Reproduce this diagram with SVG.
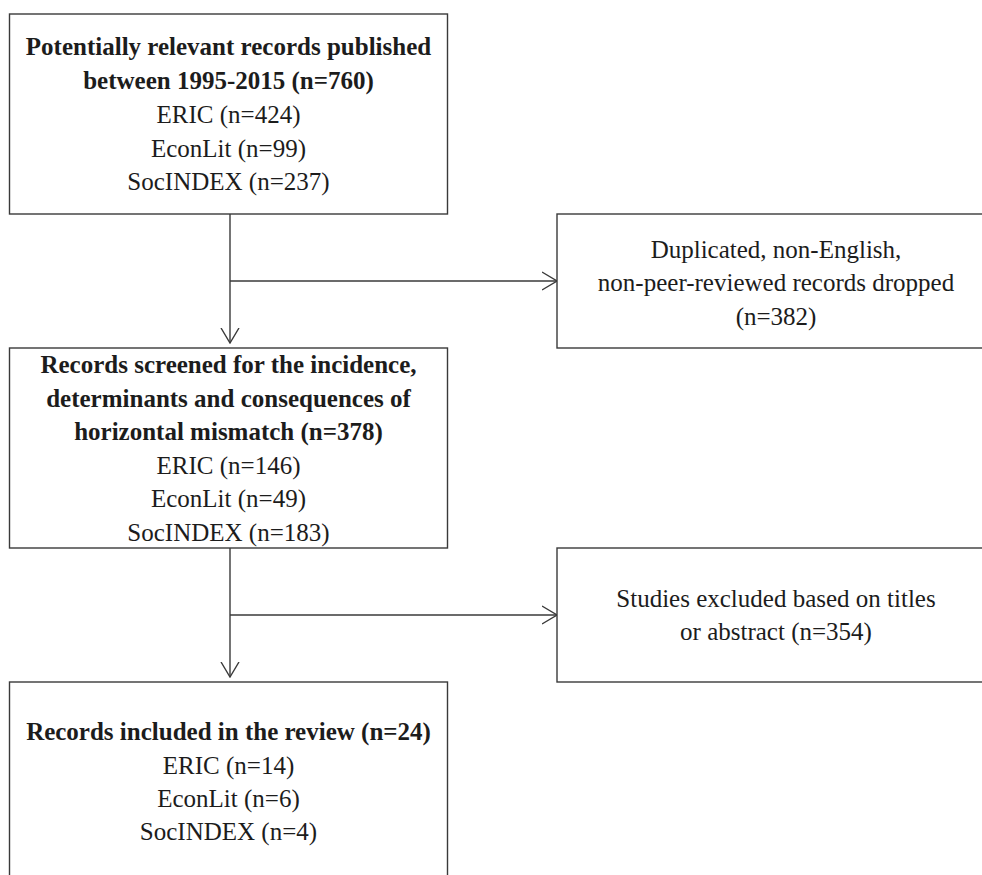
<svg xmlns="http://www.w3.org/2000/svg" width="982" height="875" viewBox="0 0 982 875">
<defs>
<style>
.box{fill:#fff;stroke:#3a3a3a;stroke-width:1.4}
.t{font-family:"Liberation Serif","Times New Roman",serif;font-size:25px;fill:#1c1c1c;text-anchor:middle}
.b{font-weight:bold}
.c{fill:none;stroke:#3a3a3a;stroke-width:1.4}
</style>
<marker id="arr" viewBox="0 0 16 20" refX="15" refY="10" markerWidth="16" markerHeight="20" markerUnits="userSpaceOnUse" orient="auto">
<path d="M0,1 L15,10 L0,19" fill="none" stroke="#3a3a3a" stroke-width="1.4"/>
</marker>
</defs>
<rect width="982" height="875" fill="#fff"/>
<g id="connectors">
<line class="c" x1="230" y1="214" x2="230" y2="343" marker-end="url(#arr)"/>
<line class="c" x1="230" y1="281" x2="557" y2="281" marker-end="url(#arr)"/>
<line class="c" x1="230" y1="548" x2="230" y2="677" marker-end="url(#arr)"/>
<line class="c" x1="230" y1="615" x2="557" y2="615" marker-end="url(#arr)"/>
</g>
<g id="node1">
<rect class="box" x="9.5" y="14" width="438" height="200"/>
<text class="t b" x="228.5" y="55">Potentially relevant records published</text>
<text class="t b" x="228.5" y="89">between 1995-2015 (n=760)</text>
<text class="t" x="228.5" y="123">ERIC (n=424)</text>
<text class="t" x="228.5" y="157">EconLit (n=99)</text>
<text class="t" x="228.5" y="190">SocINDEX (n=237)</text>
</g>
<g id="node2">
<rect class="box" x="557" y="214" width="438" height="134"/>
<text class="t" x="776" y="258">Duplicated, non-English,</text>
<text class="t" x="776" y="291">non-peer-reviewed records dropped</text>
<text class="t" x="776" y="325">(n=382)</text>
</g>
<g id="node3">
<rect class="box" x="9.5" y="348" width="438" height="200"/>
<text class="t b" x="228.5" y="373">Records screened for the incidence,</text>
<text class="t b" x="228.5" y="407">determinants and consequences of</text>
<text class="t b" x="228.5" y="440">horizontal mismatch (n=378)</text>
<text class="t" x="228.5" y="474">ERIC (n=146)</text>
<text class="t" x="228.5" y="507">EconLit (n=49)</text>
<text class="t" x="228.5" y="541">SocINDEX (n=183)</text>
</g>
<g id="node4">
<rect class="box" x="557" y="548" width="438" height="134"/>
<text class="t" x="776" y="607">Studies excluded based on titles</text>
<text class="t" x="776" y="640">or abstract (n=354)</text>
</g>
<g id="node5">
<rect class="box" x="9.5" y="682" width="438" height="210"/>
<text class="t b" x="228.5" y="740">Records included in the review (n=24)</text>
<text class="t" x="228.5" y="774">ERIC (n=14)</text>
<text class="t" x="228.5" y="807">EconLit (n=6)</text>
<text class="t" x="228.5" y="840">SocINDEX (n=4)</text>
</g>
</svg>
